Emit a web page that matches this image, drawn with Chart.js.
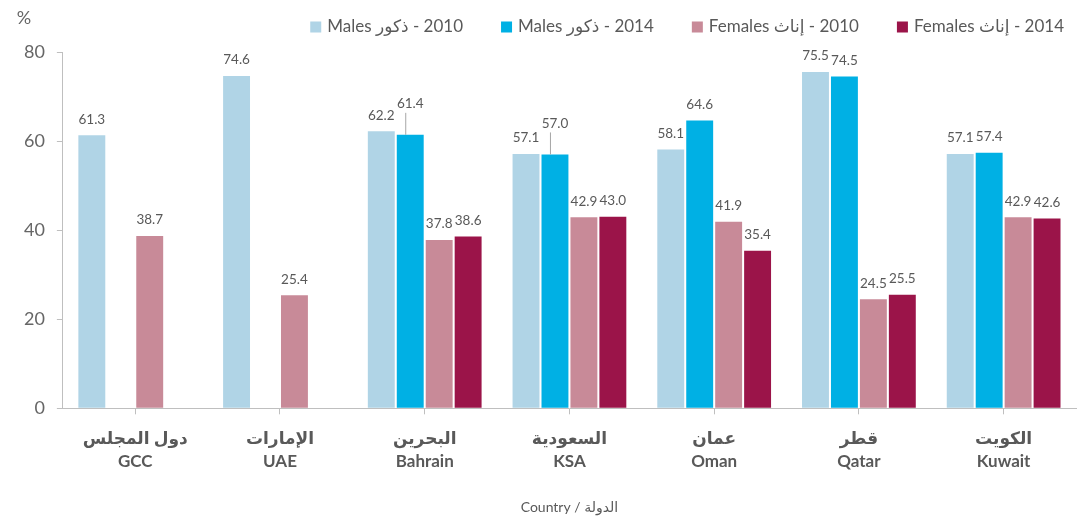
<!DOCTYPE html>
<html>
<head>
<meta charset="utf-8">
<script src="https://cdn.jsdelivr.net/npm/chart.js@4.4.1/dist/chart.umd.min.js"></script>
<style>
  html, body { margin: 0; padding: 0; background: #fff; }
  #wrap { width: 1090px; height: 520px; position: relative; }
</style>
</head>
<body>
<div id="wrap"><canvas id="chart"></canvas></div>
<script>
const categoriesAr = ["دول المجلس", "الإمارات", "البحرين", "السعودية", "عمان", "قطر", "الكويت"];
const categoriesEn = ["GCC", "UAE", "Bahrain", "KSA", "Oman", "Qatar", "Kuwait"];

const males2010 = [61.3, 74.6, 62.2, 57.1, 58.1, 75.5, 57.1];
const males2014 = [null, null, 61.4, 57.0, 64.6, 74.5, 57.4];
const females2010 = [38.7, 25.4, 37.8, 42.9, 41.9, 24.5, 42.9];
const females2014 = [null, null, 38.6, 43.0, 35.4, 25.5, 42.6];

// LRM keeps "- 2010" after the Arabic word, as in the original legend
const seriesNames = [
  "Males ذكور\u200E - 2010",
  "Males ذكور\u200E - 2014",
  "Females إناث\u200E - 2010",
  "Females إناث\u200E - 2014"
];
const yTicks = [0, 20, 40, 60, 80];

const FONT = "Lato, 'DejaVu Sans', sans-serif";
const GREY = "#595959";

// value labels above bars (two lifted with a leader line), legend and % unit
const extras = {
  id: "extras",
  afterDatasetsDraw(chart, args, opts) {
    const ctx = chart.ctx;
    ctx.save();
    ctx.font = "13.5px " + FONT;
    ctx.fillStyle = GREY;
    ctx.textAlign = "center";
    ctx.textBaseline = "middle";
    chart.data.datasets.forEach((ds, di) => {
      const meta = chart.getDatasetMeta(di);
      meta.data.forEach((bar, i) => {
        const v = ds.data[i];
        if (v === null || v === undefined) return;
        const lifted = opts.leaders.some(p => p[0] === di && p[1] === i);
        let y = bar.y - 16;
        if (lifted) {
          y = bar.y - 31;
          ctx.strokeStyle = "#A6A6A6";
          ctx.lineWidth = 1;
          ctx.beginPath();
          ctx.moveTo(bar.x - 4.5, bar.y);
          ctx.lineTo(bar.x - 4.5, y + 9);
          ctx.stroke();
        }
        ctx.fillText(v.toFixed(1), bar.x, y);
      });
    });

    // legend, right aligned at the top
    ctx.font = "17px " + FONT;
    ctx.textAlign = "left";
    const box = 11, gapText = 6, gapItem = 38;
    const items = chart.data.datasets.map(ds => ({
      text: ds.label, color: ds.backgroundColor, w: ctx.measureText(ds.label).width
    }));
    let total = items.reduce((s, it) => s + box + gapText + it.w, 0) + gapItem * (items.length - 1);
    let x = opts.legendRight - total;
    const ly = 27;
    items.forEach(it => {
      ctx.fillStyle = it.color;
      ctx.fillRect(x, ly - box / 2, box, box);
      ctx.fillStyle = GREY;
      ctx.fillText(it.text, x + box + gapText, ly);
      x += box + gapText + it.w + gapItem;
    });

    // unit label above the y axis
    ctx.font = "18px " + FONT;
    ctx.textAlign = "center";
    ctx.fillStyle = "#666666";
    ctx.fillText("%", chart.chartArea.left - 39, 18);
    ctx.restore();
  }
};

const colors = ["#B0D4E6", "#00B0E4", "#C88A98", "#9B1449"];
const allSeries = [males2010, males2014, females2010, females2014];

new Chart(document.getElementById("chart"), {
  type: "bar",
  data: {
    labels: categoriesEn.map((en, i) => [categoriesAr[i], en]),
    datasets: allSeries.map((d, i) => ({
      label: seriesNames[i],
      data: d,
      backgroundColor: colors[i],
      borderWidth: 0,
      categoryPercentage: 0.8,
      barPercentage: 0.93
    }))
  },
  options: {
    responsive: true,
    maintainAspectRatio: false,
    animation: false,
    layout: { padding: { left: 12, right: 14, top: 52, bottom: 4 } },
    plugins: {
      tooltip: { enabled: false },
      legend: { display: false },
      extras: { leaders: [[1, 2], [1, 3]], legendRight: 1064 }
    },
    scales: {
      x: {
        grid: {
          display: true,
          drawOnChartArea: false,
          offset: false,
          tickLength: 6,
          color: "#BFBFBF"
        },
        border: { color: "#BFBFBF", width: 1 },
        ticks: {
          color: GREY,
          font: { family: FONT, size: 17, weight: "bold", lineHeight: 1.35 },
          padding: 13,
          maxRotation: 0
        },
        title: {
          display: true,
          text: "Country / الدولة",
          color: GREY,
          font: { family: FONT, size: 14 },
          padding: { top: 13, bottom: 0 }
        }
      },
      y: {
        min: 0,
        max: 80,
        afterBuildTicks: axis => { axis.ticks = yTicks.map(v => ({ value: v })); },
        grid: {
          display: true,
          drawOnChartArea: false,
          tickLength: 6,
          color: "#BFBFBF"
        },
        border: { color: "#BFBFBF", width: 1 },
        ticks: {
          color: "#666666",
          font: { family: FONT, size: 18 },
          padding: 12
        }
      }
    }
  },
  plugins: [extras]
});
</script>
</body>
</html>
